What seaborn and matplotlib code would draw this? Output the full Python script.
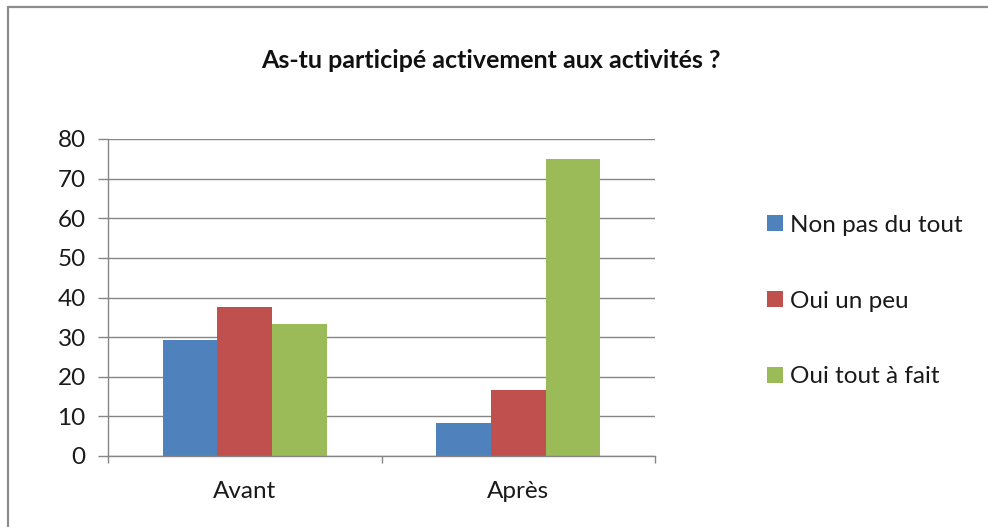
import pandas as pd
import seaborn as sns
import matplotlib.pyplot as plt
from matplotlib.lines import Line2D
from matplotlib.patches import Patch

# ---------- DATA
periods = ["Avant", "Après"]
answers = ["Non pas du tout", "Oui un peu", "Oui tout à fait"]
non_pas = [29.2, 8.3]
oui_peu = [37.5, 16.7]
oui_tout = [33.3, 75.0]
yticks = [0, 10, 20, 30, 40, 50, 60, 70, 80]
colors = ["#4F81BD", "#C0504D", "#9BBB59"]

rows = []
for ans, vals in zip(answers, [non_pas, oui_peu, oui_tout]):
    for per, v in zip(periods, vals):
        rows.append({"period": per, "answer": ans, "value": v})
df = pd.DataFrame(rows)

# ---------- PLOT
sns.set_theme(style="white")
plt.rcParams["font.family"] = ["Lato", "DejaVu Sans"]
grey = "#868686"

fig = plt.figure(figsize=(9.88, 5.27), dpi=100)
ax = fig.add_axes([108 / 988, 1 - 456 / 527, (655 - 108) / 988, (456 - 139) / 527])

sns.barplot(
    data=df, x="period", y="value", hue="answer",
    order=periods, hue_order=answers, palette=colors, saturation=1,
    width=0.6, linewidth=0, ax=ax, legend=False
)

ax.set_xlim(-0.5, 1.5)
ax.set_ylim(0, 80)
ax.set_yticks(yticks)
ax.set_xlabel("")
ax.set_ylabel("")

# grid + spines
ax.yaxis.grid(True, color=grey, linewidth=1)
ax.set_axisbelow(True)
for side in ["top", "right"]:
    ax.spines[side].set_visible(False)
for side in ["left", "bottom"]:
    ax.spines[side].set_color(grey)
    ax.spines[side].set_linewidth(1)

ax.tick_params(axis="y", which="major", direction="out", length=7, width=1,
               color=grey, pad=9, labelsize=17.5, labelcolor="#1a1a1a", left=True)
ax.tick_params(axis="x", which="major", length=0, pad=18, labelsize=17.5, labelcolor="#1a1a1a")
ax.set_xticks([-0.5, 0.5, 1.5], minor=True)
ax.tick_params(axis="x", which="minor", direction="out", length=5, width=1,
               color=grey, bottom=True)

# legend
handles = [Patch(facecolor=c, edgecolor="none") for c in colors]
fig.legend(handles, answers, loc="center left",
           bbox_to_anchor=(767 / 988, 1 - 301 / 527),
           frameon=False, fontsize=17.5, labelspacing=2.25,
           handlelength=0.65, handleheight=0.65, handletextpad=0.3,
           borderpad=0, borderaxespad=0, labelcolor="#1a1a1a")

# title
fig.text(491 / 988, 1 - 61 / 527, "As-tu participé activement aux activités ?",
         ha="center", va="center", fontsize=18, fontweight="bold", color="#111111")

# outer chart frame (left + top edges visible)
fig.add_artist(Line2D([8 / 988, 8 / 988], [0, 1 - 7 / 527], transform=fig.transFigure,
                      color="#8c8c8c", linewidth=1.6))
fig.add_artist(Line2D([8 / 988, 1], [1 - 7 / 527, 1 - 7 / 527], transform=fig.transFigure,
                      color="#8c8c8c", linewidth=1.6))

plt.savefig("out.png", dpi=100)
